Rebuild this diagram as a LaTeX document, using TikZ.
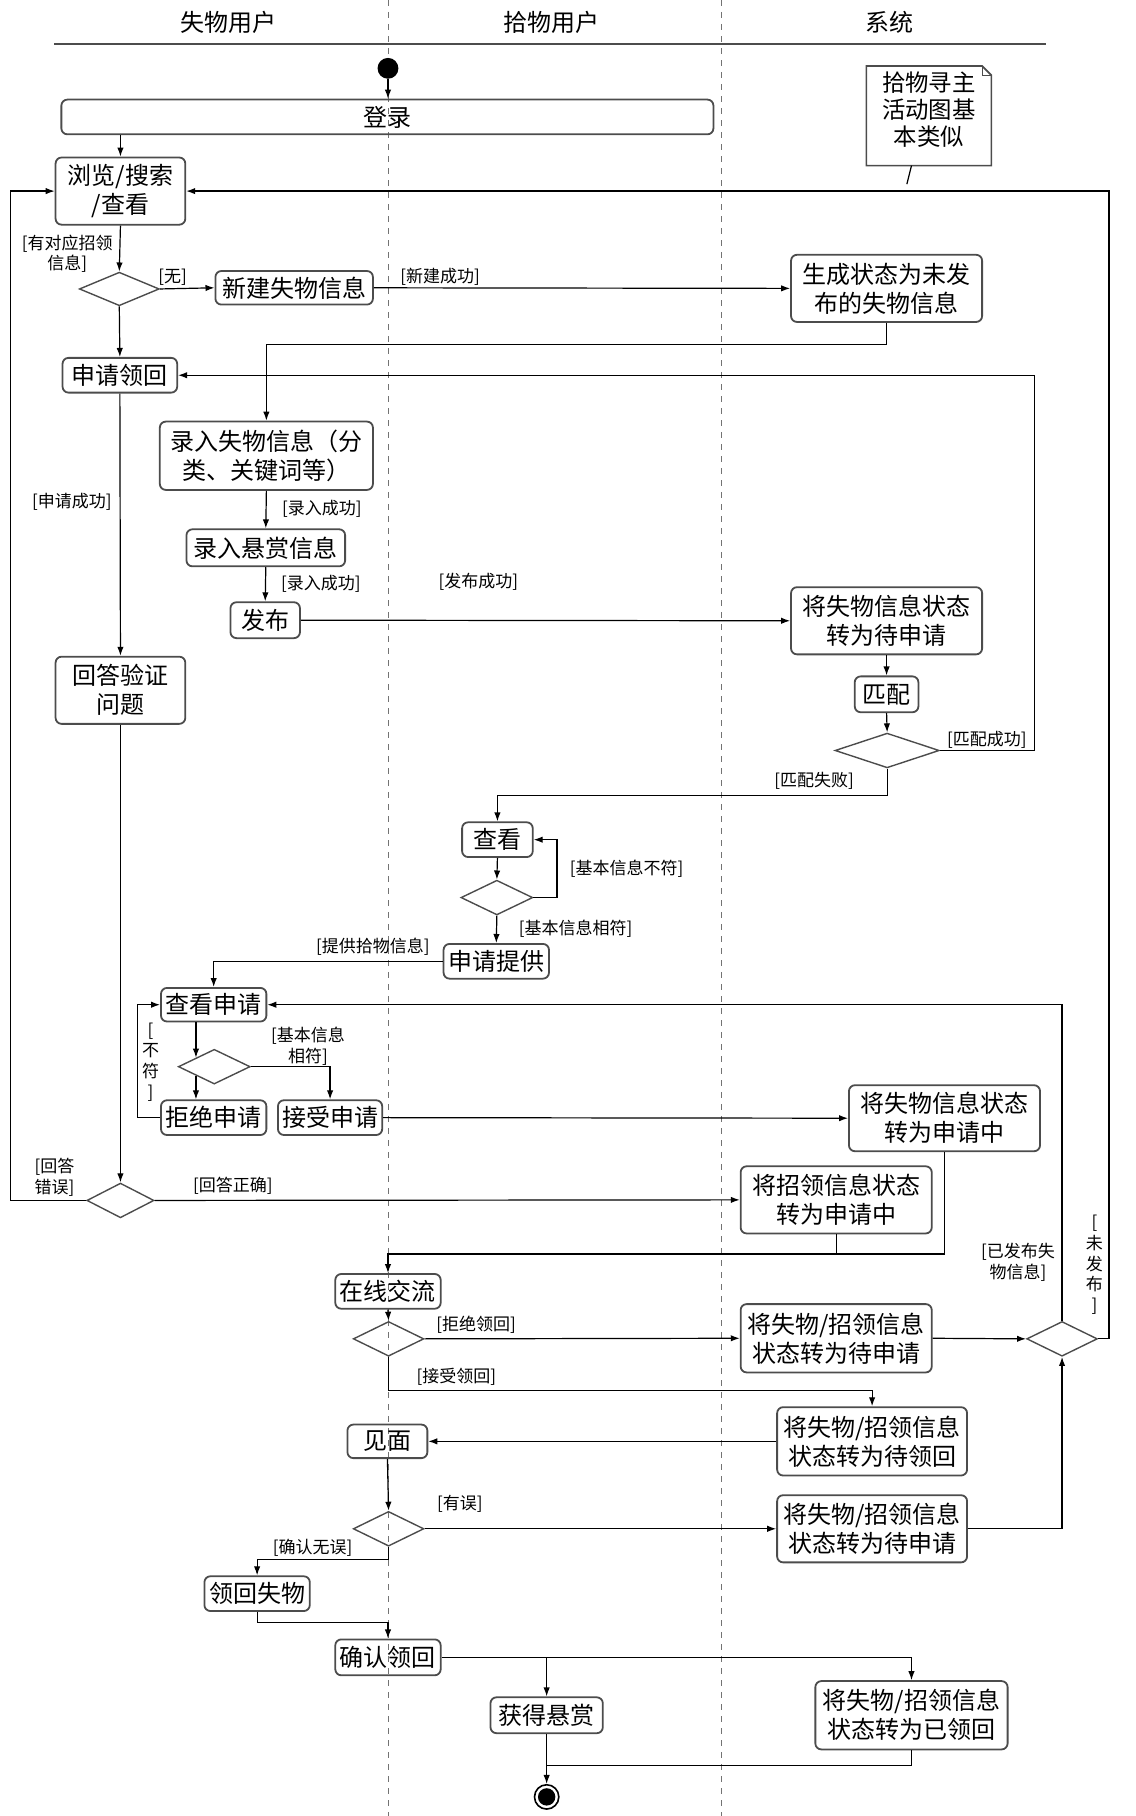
\documentclass[tikz,border=0pt]{standalone}
\usepackage{fontspec}
\setmainfont{Noto Sans CJK SC}
\usetikzlibrary{calc,arrows.meta,shapes.geometric}
\def\unitpx{0.579pt}
\def\actbox[#1](#2)(#3:#4)#5{\node[act, minimum width=#3*\unitpx, minimum height=#4*\unitpx] (#1) at (#2) {#5};}
\def\decbox[#1](#2)(#3:#4){\node[dec, minimum width=#3*\unitpx, minimum height=#4*\unitpx] (#1) at (#2) {};}
\tikzset{
	act/.style={draw=black!70, line width=0.9pt, rounded corners=3pt, inner sep=0pt, align=center, font=\fontsize{12pt}{14.5pt}\selectfont},
	dec/.style={draw=black!70, line width=0.7pt, diamond, inner sep=0pt},
	lbl/.style={inner sep=0pt, align=center, font=\fontsize{8.5pt}{10.4pt}\selectfont},
	flow/.style={line width=0.6pt},
	arr/.style={flow, -{Latex[length=4.5pt,width=3.2pt]}},
	lane/.style={draw=black!55, dashed, line width=0.5pt}
}

\begin{document}
\begin{tikzpicture}[x=0.579pt, y=-0.579pt]
			%%%%% START %%%%%
			\useasboundingbox (0,0) rectangle (980,1568);
			
			\draw[lane] (335.4,0) -- (335.4,1568);
			\draw[lane] (623,0) -- (623,1568);
			\draw[black!70, line width=1.1pt] (47,38) -- (903,38);
			\node[font=\fontsize{12pt}{14pt}\selectfont] (laneA) at (197,19) {失物用户};
			\node[font=\fontsize{12pt}{14pt}\selectfont] (laneB) at (476,19) {拾物用户};
			\node[font=\fontsize{12pt}{14pt}\selectfont] (laneC) at (768,19) {系统};
			
			\node[circle, fill=black, minimum size=18*\unitpx, inner sep=0pt] (start) at (335,59) {};
			\node[circle, draw=black, line width=0.8pt, minimum size=21*\unitpx, inner sep=0pt] (stop) at (472,1551.5) {};
			\fill (stop) circle (7.5);
			
			\draw[black!70, line width=0.8pt] (748,57) -- (848,57) -- (856,65) -- (856,143) -- (748,143) -- cycle;
			\draw[black!70, line width=0.6pt] (848,57) -- (848,65) -- (856,65);
			\node[align=center, font=\fontsize{11.7pt}{13.5pt}\selectfont] (note) at (802,95) {拾物寻主\\活动图基\\本类似};
			\coordinate (notetip) at (783,159);
			\draw[flow] (787,143) -- (notetip);
			
			% activities
			\actbox[login](334.5,101)(563:30){登录}
			\actbox[browse](104,165)(112:58){浏览/搜索\\/查看}
			\actbox[newlost](254,248.5)(136:29){新建失物信息}
			\actbox[gen](765.5,249)(165:58){生成状态为未发\\布的失物信息}
			\actbox[apply](103.5,324)(99:30){申请领回}
			\actbox[input](230,393.5)(184:59){录入失物信息（分\\类、关键词等）}
			\actbox[reward](229.5,473)(137:32){录入悬赏信息}
			\actbox[publish](229,535.5)(60:31){发布}
			\actbox[towait](765.5,536)(165:58){将失物信息状态\\转为待申请}
			\actbox[match](765.5,599.5)(55:31){匹配}
			\actbox[answer](104,596)(112:58){回答验证\\问题}
			\actbox[view](429.5,725)(61:30){查看}
			\actbox[provide](428.5,830)(91:30){申请提供}
			\actbox[viewapp](184.5,867.5)(91:29){查看申请}
			\actbox[reject](184.5,965)(91:30){拒绝申请}
			\actbox[accept](285,965)(90:30){接受申请}
			\actbox[toapplying](815.5,965.5)(165:57){将失物信息状态\\转为申请中}
			\actbox[claimapplying](722,1036)(165:58){将招领信息状态\\转为申请中}
			\actbox[chat](335,1115)(91:30){在线交流}
			\actbox[backwait](722,1155.5)(165:59){将失物/招领信息\\状态转为待申请}
			\actbox[waitclaim](753,1244.5)(164:59){将失物/招领信息\\状态转为待领回}
			\actbox[meet](334.5,1244.5)(69:29){见面}
			\actbox[backwaitb](753,1320)(164:58){将失物/招领信息\\状态转为待申请}
			\actbox[getback](222,1376)(91:30){领回失物}
			\actbox[confirm](335,1431)(91:31){确认领回}
			\actbox[bounty](472,1481)(97:31){获得悬赏}
			\actbox[claimed](787,1481)(166:59){将失物/招领信息\\状态转为已领回}
			
			% decisions
			\decbox[dfind](103,249.5)(69:29)
			\decbox[dmatch](766,648)(90:30)
			\decbox[dview](429,775)(62:30)
			\decbox[dapp](185,921)(62:30)
			\decbox[danswer](104,1036.5)(58:30)
			\decbox[dchat](335.5,1156)(61:30)
			\decbox[dright](917,1156)(61:30)
			\decbox[dmeet](335.5,1320)(61:30)
			
			\coordinate (leftrail) at (9,165);
			\coordinate (rightrail) at (957.5,165);
			\coordinate (matchrail) at (893,324);
			\coordinate (viewloop) at (481,725);
			\coordinate (rejectloop) at (119,867.5);
			
			% flows
			\draw[arr] (start) -- (start |- login.north);
			\draw[arr] (browse |- login.south) -- (browse.north);
			\draw[arr] (browse.south) -- (dfind.north);
			\draw[arr] (dfind.east) -- (newlost.west);
			\draw[arr] (newlost.east) -- (gen.west);
			\draw[arr] (gen.south) -- ++(0,19) -| (input.north);
			\draw[arr] (dfind.south) -- (apply.north);
			\draw[arr] (dmatch.east) -| (matchrail) -- (apply.east);
			\draw[arr] (apply.south) -- (answer.north);
			\draw[arr] (input.south) -- (reward.north);
			\draw[arr] (reward.south) -- (publish.north);
			\draw[arr] (publish.east) -- (towait.west);
			\draw[arr] (towait.south) -- (match.north);
			\draw[arr] (match.south) -- (dmatch.north);
			\draw[arr] (dmatch.south) -- ++(0,23) -| (view.north);
			\draw[arr] (view.south) -- (dview.north);
			\draw[arr] (dview.east) -| (viewloop) -- (view.east);
			\draw[arr] (dview.south) -- (provide.north);
			\draw[arr] (provide.west) -| (viewapp.north);
			\draw[arr] (viewapp.south -| dapp.north west) -- (dapp.north west);
			\draw[arr] (dapp.south west) -- (dapp.south west |- reject.north);
			\draw[arr] (dapp.east) -| (accept.north);
			\draw[arr] (reject.west) -| (rejectloop) -- (viewapp.west);
			\draw[arr] (accept.east) -- (toapplying.west);
			\draw[arr] (answer.south) -- (danswer.north);
			\draw[arr] (danswer.west) -| (leftrail) -- (browse.west);
			\draw[arr] (danswer.east) -- (claimapplying.west);
			\draw[arr] (toapplying.south) -- ++(0,88) -| (chat.north);
			\draw[flow] (claimapplying.south) -- ++(0,17);
			\draw[arr] (chat.south) -- (dchat.north);
			\draw[arr] (dchat.east) -- (backwait.west);
			\draw[arr] (backwait.east) -- (dright.west);
			\draw[arr] (dright.east) -| (rightrail) -- (browse.east);
			\draw[arr] (dright.north) |- (viewapp.east);
			\draw[arr] (dchat.south) -- ++(0,29) -| (waitclaim.north);
			\draw[arr] (waitclaim.west) -- (meet.east);
			\draw[arr] (meet.south) -- (dmeet.north);
			\draw[arr] (dmeet.east) -- (backwaitb.west);
			\draw[arr] (backwaitb.east) -| (dright.south);
			\draw[arr] (dmeet.south) -- ++(0,11) -| (getback.north);
			\draw[arr] (getback.south) -- ++(0,9) -| (confirm.north);
			\draw[arr] (confirm.east) -| (claimed.north);
			\draw[arr] (bounty.north |- confirm.east) -- (bounty.north);
			\draw[arr] (bounty.south) -- (stop.north);
			\draw[flow] (claimed.south) |- ($(bounty.south)+(0,27)$);
			
			% guards
			\node[lbl] (gfind) at (58,219) {[有对应招领\\信息]};
			\node[lbl] (gnone) at (149,239) {[无]};
			\node[lbl] (gnew) at (380,239) {[新建成功]};
			\node[lbl] (gapply) at (62,433) {[申请成功]};
			\node[lbl] (ginput) at (278,439) {[录入成功]};
			\node[lbl] (greward) at (277,504) {[录入成功]};
			\node[lbl] (gpub) at (413,502) {[发布成功]};
			\node[lbl] (gmatchok) at (852,639) {[匹配成功]};
			\node[lbl] (gmatchno) at (703,674) {[匹配失败]};
			\node[lbl] (gviewno) at (541,750) {[基本信息不符]};
			\node[lbl] (gviewok) at (497,802) {[基本信息相符]};
			\node[lbl] (gprovide) at (322,817.5) {[提供拾物信息]};
			\node[lbl] (gappok) at (266,903) {[基本信息\\相符]};
			\node[lbl] (gappno) at (130,917) {[\\不\\符\\]};
			\node[lbl] (gwrong) at (47,1016.5) {[回答\\错误]};
			\node[lbl] (gright) at (201,1024) {[回答正确]};
			\node[lbl] (grefuse) at (411,1144) {[拒绝领回]};
			\node[lbl] (gtake) at (394,1189) {[接受领回]};
			\node[lbl] (gposted) at (879,1090) {[已发布失\\物信息]};
			\node[lbl] (gunposted) at (945,1092) {[\\未\\发\\布\\]};
			\node[lbl] (gerror) at (397,1298) {[有误]};
			\node[lbl] (gok) at (270,1336) {[确认无误]};
			
			%%%%% END %%%%%
\end{tikzpicture}
\end{document}
